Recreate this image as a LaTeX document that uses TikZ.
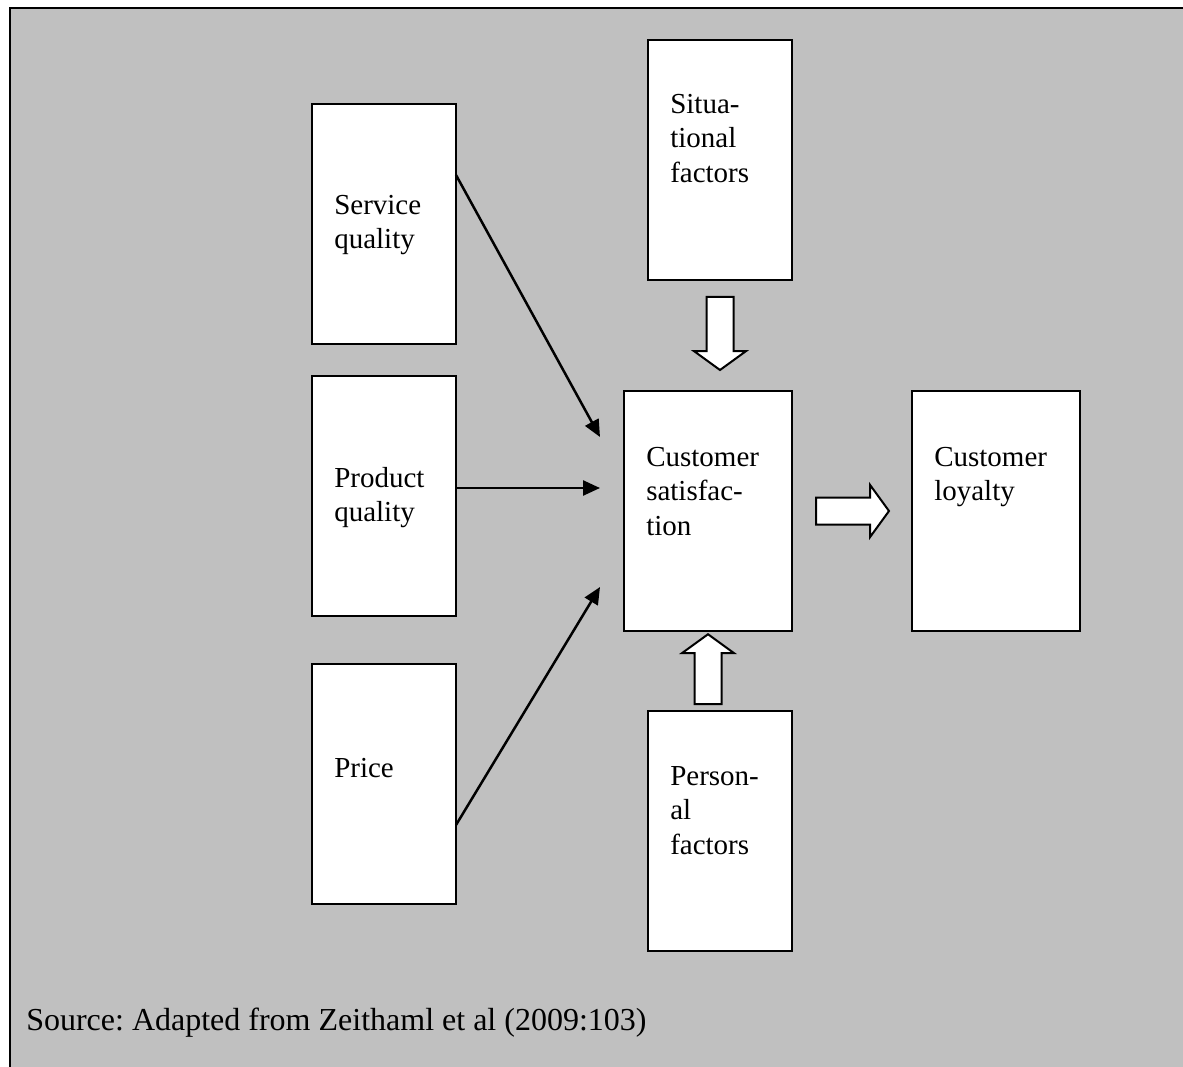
\documentclass[tikz,border=0pt]{standalone}
\usepackage{fontspec}
\setmainfont{Liberation Serif}
\usetikzlibrary{arrows.meta,shapes.arrows}
\definecolor{panel}{HTML}{C0C0C0}
\frenchspacing
\begin{document}
\begin{tikzpicture}[
	x=1pt,y=-1pt,
	>={Triangle[length=17pt,width=15pt]},
	line width=2.5pt,
	box/.style={draw,fill=white,line width=2pt,inner sep=0pt,outer sep=0pt,anchor=north west,minimum width=144pt,minimum height=240pt},
	wide/.style={box,minimum width=168pt},
	lbl/.style={anchor=north west,inner sep=0pt,align=left,font=\fontsize{29}{34.5}\selectfont,execute at begin node=\strut},
	blockarrow/.style={single arrow,draw,fill=white,line width=2pt,inner xsep=0pt,inner ysep=12.5pt,minimum width=50pt,single arrow head extend=12.5pt,single arrow tip angle=108}
	]
	\useasboundingbox (0,0) rectangle (1183,1067);
	\fill[white] (0,0) rectangle (1183,1067);
	\fill[panel] (10,8) rectangle (1183,1067);
	\draw (10,1067) -- (10,8) -- (1183,8);
	\node[box] (sq) at (312,104) {};
	\node[box] (pq) at (312,376) {};
	\node[box] (pr) at (312,664) {};
	\node[box] (sit) at (648,40) {};
	\node[wide] (cs) at (624,391) {};
	\node[wide] (cl) at (912,391) {};
	\node[box] (pf) at (648,711) {};
	\node[lbl] (sq-t) at ([shift={(21pt,-90pt)}]sq.north west) {Service\\quality};
	\node[lbl] (pq-t) at ([shift={(21pt,-90pt)}]pq.north west) {Product\\quality};
	\node[lbl] (pr-t) at ([shift={(21pt,-88pt)}]pr.north west) {Price};
	\node[lbl] (sit-t) at ([shift={(21pt,-53pt)}]sit.north west) {Situa-\\tional\\factors};
	\node[lbl] (cs-t) at ([shift={(21pt,-55pt)}]cs.north west) {Customer\\satisfac-\\tion};
	\node[lbl] (cl-t) at ([shift={(21pt,-55pt)}]cl.north west) {Customer\\loyalty};
	\node[lbl] (pf-t) at ([shift={(21pt,-54pt)}]pf.north west) {Person-\\al\\factors};
	\node[blockarrow,minimum height=73pt,rotate=-90,anchor=tail] (sit-a) at ([yshift=-16pt]sit.south) {};
	\node[blockarrow,minimum height=70pt,rotate=90,anchor=tip] (pf-a) at ([yshift=-2pt]cs.south) {};
	\node[blockarrow,minimum height=73pt,anchor=tail] (cl-a) at ([xshift=23pt]cs.east) {};
	\begin{scope}[->]
	\draw ([yshift=-71pt]sq.north east) -- ([shift={(-24pt,-46pt)}]cs.north west);
	\draw ([yshift=-112pt]pq.north east) -- ([shift={(-24pt,-97pt)}]cs.north west);
	\draw ([yshift=-161pt]pr.north east) -- ([shift={(-24pt,-196pt)}]cs.north west);
	\end{scope}
	\node[anchor=base west,inner sep=0pt,font=\fontsize{32}{36}\selectfont] (src) at (25,1030) {Source: Adapted from Zeithaml et al (2009:103)};
\end{tikzpicture}
\end{document}
